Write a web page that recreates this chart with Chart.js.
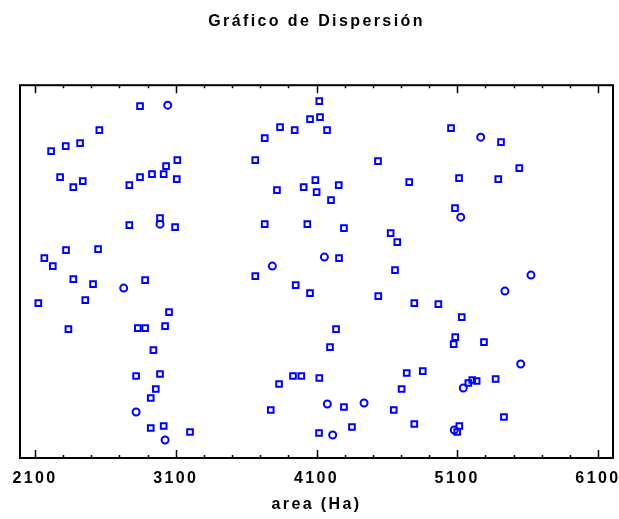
<!DOCTYPE html>
<html lang="es">
<head>
<meta charset="utf-8">
<title>Gráfico de Dispersión</title>
<script src="https://cdn.jsdelivr.net/npm/chart.js@4/dist/chart.umd.min.js"></script>
<style>
    html, body { margin: 0; padding: 0; background: #ffffff; }
    #scatterChart { display: block; }
</style>
</head>
<body>
<canvas id="scatterChart" width="619" height="519"></canvas>
<script>
// area (Ha) and plotted position of the square markers
const squareArea = [
    2846, 2557, 2214, 2318, 2420, 2278, 2372, 2439, 2770, 2846,
    2931, 3014, 3031, 3111, 3107, 2770, 2988, 3095, 2320, 2548,
    2166, 2226, 2372, 2512, 2882, 2123, 2457, 3052, 2337, 2830,
    2882, 3024, 2941, 2818, 2988, 2958, 2922, 2922, 3014, 3201,
    4120, 4054, 4125, 4175, 3841, 3945, 3732, 3665, 4537, 4759,
    3819, 4009, 4092, 4101, 4258, 4203, 3732, 4035, 4295, 4627,
    4674, 4260, 4658, 3665, 3952, 4054, 4539, 4239, 4196, 3834,
    3933, 3992, 4120, 3775, 4295, 4649, 4705, 4741, 4352, 4118,
    5056, 5411, 5541, 5113, 5392, 5084, 4795, 4966, 5132, 5086,
    5075, 5290, 4855, 5179, 5207, 5238, 5373, 5432, 4795, 5115,
    5100
];
const squareY = [
    352, 328, 307, 312, 315, 281, 271, 277, 273, 281,
    284, 284, 292, 298, 279, 233, 240, 231, 208, 209,
    200, 192, 179, 174, 178, 155, 158, 146, 129, 130,
    130, 132, 108, 82, 84, 69, 60, 30, 32, 26,
    357, 339, 341, 328, 331, 328, 320, 298, 297, 276,
    268, 271, 278, 266, 273, 258, 234, 234, 230, 225,
    216, 200, 188, 182, 173, 165, 162, 129, 111, 74,
    82, 82, 80, 48, 51, 48, 69, 85, 31, 25,
    330, 316, 290, 280, 279, 250, 155, 154, 141, 121,
    114, 116, 87, 75, 78, 77, 79, 41, 34, 32,
    26
];

// area (Ha) and plotted position of the circle markers
const circleArea = [3043, 2988, 2730, 2818, 3024, 4156, 3786, 4177, 4438, 4215, 5267, 5125, 5624, 5439, 5551, 5143, 5079];
const circleY = [353, 234, 170, 46, 18, 201, 192, 54, 55, 23, 321, 241, 183, 167, 94, 70, 28];

// x axis labels and range
const xTickLabels = [2100, 3100, 4100, 5100, 6100];
const xMin = 1993;
const xMax = 6207;
const yMin = 0;
const yMax = 373;

const markerColor = '#0000ff';
const fontFamily = '"Liberation Sans", Arial, sans-serif';

document.addEventListener('DOMContentLoaded', function () {
    if (document.getElementById('scatterChart')) {
        renderScatterChart();
    }
});

/**
 * Build {x, y} pairs from two parallel arrays
 */
function toPoints(xs, ys) {
    return xs.map((x, i) => ({ x: x, y: ys[i] }));
}

/**
 * The original uses a widely spaced bitmap font
 */
const spacingPlugin = {
    id: 'letterSpacing',
    beforeDraw(chart) {
        chart.ctx.letterSpacing = '2.4px';
    }
};

/**
 * Frame round the plot, with inward ticks on top and bottom
 */
const framePlugin = {
    id: 'plotFrame',
    afterDatasetsDraw(chart) {
        const { ctx, chartArea, scales } = chart;
        const xScale = scales.x;
        ctx.save();
        ctx.strokeStyle = '#000000';
        ctx.lineWidth = 2;
        ctx.strokeRect(chartArea.left, chartArea.top, chartArea.right - chartArea.left, chartArea.bottom - chartArea.top);

        // minor ticks every 200, major ticks on the labelled values
        ctx.lineWidth = 1.5;
        for (let v = xTickLabels[0]; v <= xTickLabels[xTickLabels.length - 1]; v += 200) {
            const px = Math.round(xScale.getPixelForValue(v)) + 0.5;
            const len = xTickLabels.includes(v) ? 8 : 3;
            ctx.beginPath();
            ctx.moveTo(px, chartArea.bottom);
            ctx.lineTo(px, chartArea.bottom - len);
            ctx.moveTo(px, chartArea.top);
            ctx.lineTo(px, chartArea.top + len);
            ctx.stroke();
        }
        ctx.restore();
    }
};

/**
 * Draw the scatter chart
 */
function renderScatterChart() {
    const ctx = document.getElementById('scatterChart');

    new Chart(ctx, {
        type: 'scatter',
        data: {
            datasets: [{
                label: 'cuadrados',
                data: toPoints(squareArea, squareY),
                pointStyle: 'rect',
                pointRadius: 4,
                borderColor: markerColor,
                backgroundColor: 'rgba(0, 0, 0, 0)',
                borderWidth: 2
            }, {
                label: 'círculos',
                data: toPoints(circleArea, circleY),
                pointStyle: 'circle',
                pointRadius: 3.5,
                borderColor: markerColor,
                backgroundColor: 'rgba(0, 0, 0, 0)',
                borderWidth: 2
            }]
        },
        options: {
            responsive: false,
            animation: false,
            devicePixelRatio: 1,
            layout: {
                padding: { left: 20, right: 6, top: 0, bottom: 5 }
            },
            plugins: {
                legend: { display: false },
                tooltip: { enabled: false },
                title: {
                    display: true,
                    text: 'Gráfico de Dispersión',
                    color: '#000000',
                    font: { family: fontFamily, size: 16, weight: 'bold' },
                    padding: { top: 12, bottom: 54 }
                }
            },
            scales: {
                x: {
                    type: 'linear',
                    min: xMin,
                    max: xMax,
                    afterBuildTicks(scale) {
                        scale.ticks = xTickLabels.map(v => ({ value: v }));
                    },
                    afterFit(scale) {
                        // fixed axis band so the plot box lands where the original has it
                        scale.height = 56;
                        scale.paddingLeft = 0;
                        scale.paddingRight = 0;
                    },
                    grid: { display: false, drawTicks: false },
                    border: { display: false },
                    ticks: {
                        color: '#000000',
                        padding: 11,
                        maxRotation: 0,
                        autoSkip: false,
                        font: { family: fontFamily, size: 16, weight: 'bold' },
                        callback: value => String(value)
                    },
                    title: {
                        display: true,
                        text: 'area (Ha)',
                        color: '#000000',
                        font: { family: fontFamily, size: 16, weight: 'bold' },
                        padding: { top: 2, bottom: 0 }
                    }
                },
                y: {
                    display: false,
                    min: yMin,
                    max: yMax
                }
            }
        },
        plugins: [spacingPlugin, framePlugin]
    });
}
</script>
</body>
</html>
